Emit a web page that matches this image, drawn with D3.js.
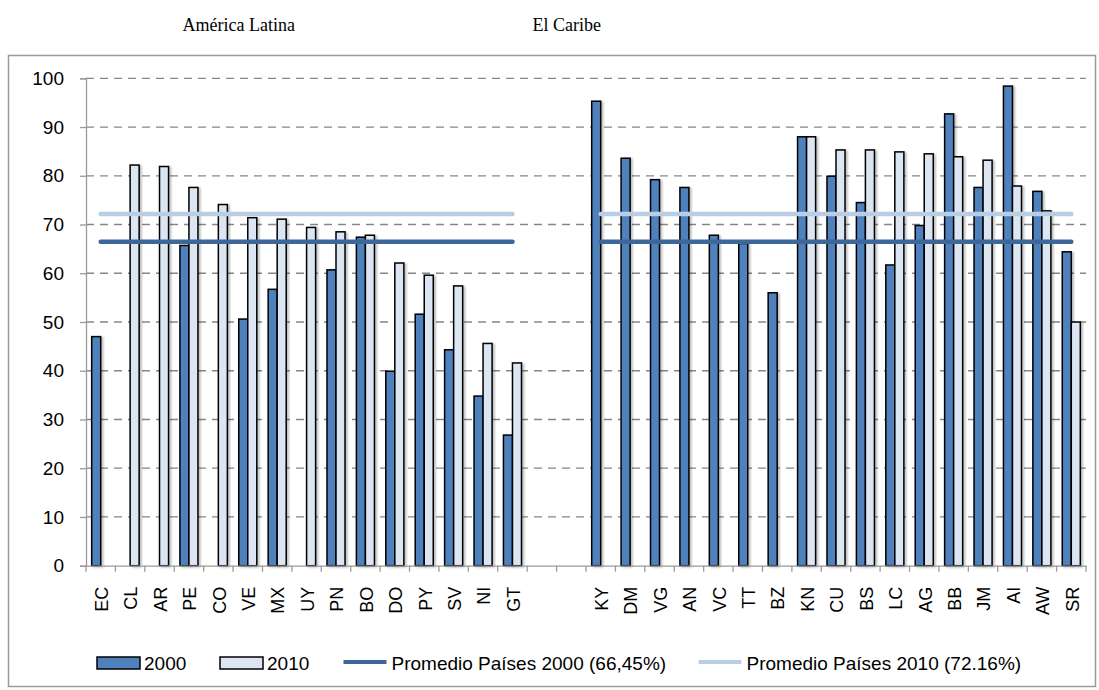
<!DOCTYPE html>
<html><head><meta charset="utf-8">
<script src="https://cdn.jsdelivr.net/npm/d3@7"></script>
<style>body{margin:0;background:#fff}</style>
</head><body><svg id="c" width="1099" height="690"></svg>
<script>
const latinCategories = ["EC","CL","AR","PE","CO","VE","MX","UY","PN","BO","DO","PY","SV","NI","GT"];
const latin2000 = [47.0,null,null,65.7,null,50.6,56.7,null,60.7,67.4,39.9,51.6,44.3,34.8,26.8];
const latin2010 = [null,82.2,81.9,77.6,74.1,71.4,71.1,69.4,68.5,67.8,62.1,59.6,57.4,45.6,41.6];
const caribeCategories = ["KY","DM","VG","AN","VC","TT","BZ","KN","CU","BS","LC","AG","BB","JM","AI","AW","SR"];
const caribe2000 = [95.3,83.6,79.2,77.6,67.8,66.1,56.0,88.0,79.9,74.5,61.7,69.8,92.7,77.6,98.4,76.8,64.4];
const caribe2010 = [null,null,null,null,null,null,null,88.0,85.3,85.3,84.9,84.5,83.9,83.2,77.9,72.8,50.0];
const gapSlots = ["gap1","gap2"];
const years = ["2000","2010"];
const averages = [66.45, 72.16];
const averageLabels = ["Promedio Países 2000 (66,45%)","Promedio Países 2010 (72.16%)"];
const groupTitles = ["América Latina","El Caribe"];
const yTicks = [0,10,20,30,40,50,60,70,80,90,100];

const barFill = {"2000":"#4F81BD","2010":"#DCE6F2"};
const avgColor = ["#3D6798","#B9CDE5"];
const font = "'Liberation Sans', Arial, sans-serif";

const svg = d3.select("#c");
const defs = svg.append("defs");
const f = defs.append("filter").attr("id","sh").attr("x","-20%").attr("y","-5%").attr("width","160%").attr("height","115%");
f.append("feDropShadow").attr("dx",2).attr("dy",1).attr("stdDeviation",1).attr("flood-color","#000").attr("flood-opacity",0.25);

// outer border
svg.append("rect").attr("x",8.5).attr("y",55.5).attr("width",1087).attr("height",631)
  .attr("fill","none").attr("stroke","#9a9a9a").attr("stroke-width",1.5);

const domain = [...latinCategories, ...gapSlots, ...caribeCategories];
const x0 = d3.scaleBand().domain(domain).range([86,1086]).padding(0);
const x1 = d3.scaleBand().domain(years).range([0,x0.bandwidth()]).paddingInner(0).paddingOuter(0.63);
const y = d3.scaleLinear().domain([0,100]).range([565.7,78.3]);

// gridlines
svg.append("g").selectAll("line").data(yTicks.filter(d=>d>0)).join("line")
  .attr("x1",86).attr("x2",1086).attr("y1",d=>y(d)).attr("y2",d=>y(d))
  .attr("stroke","#868686").attr("stroke-width",1.3).attr("stroke-dasharray","8,6");

// y axis
const ya = svg.append("g").attr("transform","translate(86,0)")
  .call(d3.axisLeft(y).tickValues(yTicks).tickSize(6).tickPadding(16));
ya.select(".domain").attr("stroke","#9a9a9a").attr("stroke-width",1.3);
ya.selectAll(".tick line").attr("stroke","#9a9a9a").attr("stroke-width",1.3);
ya.selectAll(".tick text").attr("font-family",font).attr("font-size",19).attr("fill","#000");

// bars
const rows = [];
latinCategories.forEach((c,i)=>{rows.push({cat:c,year:"2000",v:latin2000[i]});rows.push({cat:c,year:"2010",v:latin2010[i]});});
caribeCategories.forEach((c,i)=>{rows.push({cat:c,year:"2000",v:caribe2000[i]});rows.push({cat:c,year:"2010",v:caribe2010[i]});});
svg.append("g").selectAll("rect").data(rows.filter(d=>d.v!=null)).join("rect")
  .attr("x",d=>x0(d.cat)+x1(d.year)).attr("width",x1.bandwidth())
  .attr("y",d=>y(d.v)).attr("height",d=>y(0)-y(d.v))
  .attr("fill",d=>barFill[d.year]).attr("stroke","#000").attr("stroke-width",1.5)
  .attr("filter","url(#sh)");

// x axis
const xa = svg.append("g").attr("transform",`translate(0,${y(0)})`)
  .call(d3.axisBottom(x0).tickSize(0).tickFormat(d=>gapSlots.includes(d)?"":d));
xa.select(".domain").attr("stroke","#9a9a9a").attr("stroke-width",1.3);
xa.selectAll(".tick text").attr("font-family",font).attr("font-size",18).attr("fill","#000")
  .attr("text-anchor","end").attr("dy","0.35em").attr("y",0)
  .attr("transform","translate(1,21) rotate(-90)");
const bounds = domain.map(d=>x0(d)).concat([x0.range()[1]]);
xa.append("g").selectAll("line").data(bounds).join("line")
  .attr("x1",d=>d).attr("x2",d=>d).attr("y1",0).attr("y2",6)
  .attr("stroke","#9a9a9a").attr("stroke-width",1.3);

// average lines
const segs = [[latinCategories[0], latinCategories[latinCategories.length-1]],
              [caribeCategories[0], caribeCategories[caribeCategories.length-1]]];
[1,0].forEach(k=>{
  segs.forEach(s=>{
    svg.append("line")
      .attr("x1",x0(s[0])+x0.bandwidth()/2).attr("x2",x0(s[1])+x0.bandwidth()/2)
      .attr("y1",y(averages[k])).attr("y2",y(averages[k]))
      .attr("stroke",avgColor[k]).attr("stroke-width",4.5).attr("stroke-linecap","round");
  });
});

// group titles
const titleX = [238.7, 566.7];
groupTitles.forEach((t,i)=>{
  svg.append("text").attr("x",titleX[i]).attr("y",31).attr("text-anchor","middle")
    .attr("font-family","'Liberation Serif', 'DejaVu Serif', serif").attr("font-size",18).attr("fill","#000").text(t);
});

// legend
const lg = svg.append("g").attr("font-family",font).attr("font-size",19).attr("fill","#000");
const swX = [97, 220];
years.forEach((yr,i)=>{
  lg.append("rect").attr("x",swX[i]).attr("y",657).attr("width",43).attr("height",12)
    .attr("fill",barFill[yr]).attr("stroke","#000").attr("stroke-width",1.5);
  lg.append("text").attr("x",swX[i]+47).attr("y",670).text(yr);
});
const lnX = [343.5, 698.5];
averageLabels.forEach((t,i)=>{
  lg.append("line").attr("x1",lnX[i]).attr("x2",lnX[i]+43).attr("y1",662).attr("y2",662)
    .attr("stroke",avgColor[i]).attr("stroke-width",4);
  lg.append("text").attr("x",lnX[i]+48).attr("y",670).text(t);
});
</script></body></html>
